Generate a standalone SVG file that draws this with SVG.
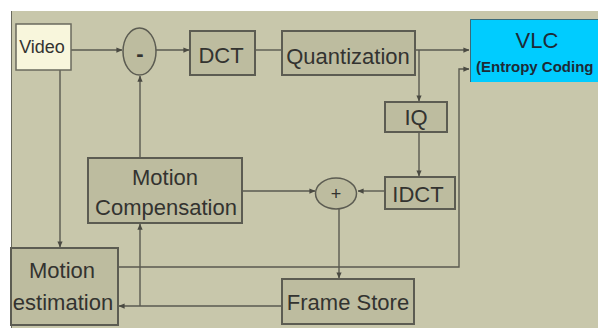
<svg xmlns="http://www.w3.org/2000/svg" width="598" height="328" viewBox="0 0 598 328">
<style>
.box{fill:#bdbc9f;stroke:#5c5c52;stroke-width:2}
.lbl{font-family:"Liberation Sans",Arial,sans-serif;font-size:22px;fill:#333330;text-anchor:middle}
.ln{fill:none;stroke:#5a5a50;stroke-width:1.4}
</style>
<defs>
<marker id="ah" viewBox="0 0 8 8" refX="7.5" refY="4" markerWidth="6" markerHeight="6" orient="auto" markerUnits="userSpaceOnUse">
<path d="M0,0.5 L8,4 L0,7.5 Z" fill="#4a4a42"/>
</marker>
</defs>
<rect x="0" y="0" width="598" height="328" fill="#ffffff"/>
<rect x="11" y="11" width="587" height="317" fill="#c8c7ab"/>
<line x1="11.5" y1="11" x2="11.5" y2="328" stroke="#6a6a5e" stroke-width="1"/>

<g id="connectors">
<path class="ln" d="M71,50 H122" marker-end="url(#ah)"/>
<path class="ln" d="M156,50 H189" marker-end="url(#ah)"/>
<path class="ln" d="M255,50 H282"/>
<path class="ln" d="M415,50 H469" marker-end="url(#ah)"/>
<path class="ln" d="M419,50 V101" marker-end="url(#ah)"/>
<path class="ln" d="M419,132 V176" marker-end="url(#ah)"/>
<path class="ln" d="M385,191 H358" marker-end="url(#ah)"/>
<path class="ln" d="M242,191 H315" marker-end="url(#ah)"/>
<path class="ln" d="M339,209 V278" marker-end="url(#ah)"/>
<path class="ln" d="M140,158 V76" marker-end="url(#ah)"/>
<path class="ln" d="M60,70 V247" marker-end="url(#ah)"/>
<path class="ln" d="M118,267 H459 V69 H469" marker-end="url(#ah)"/>
<path class="ln" d="M282,306 H119" marker-end="url(#ah)"/>
<path class="ln" d="M140,306 V224" marker-end="url(#ah)"/>
</g>

<g id="video">
<rect x="16" y="24" width="55" height="46" fill="#f8f6dc" stroke="#6a6a5e" stroke-width="1.5"/>
<text class="lbl" x="42" y="53" style="font-size:18px">Video</text>
</g>

<g id="minus">
<ellipse cx="139.5" cy="51.5" rx="16.5" ry="23.5" fill="#bdbc9f" stroke="#5c5c52" stroke-width="1.5"/>
<text class="lbl" x="140" y="61" style="font-size:22px;font-weight:bold">-</text>
</g>

<g id="dct">
<rect class="box" x="190" y="31" width="65" height="44"/>
<text class="lbl" x="221" y="63">DCT</text>
</g>

<g id="quantization">
<rect class="box" x="282" y="31" width="133" height="44"/>
<text class="lbl" x="348" y="64">Quantization</text>
</g>

<g id="vlc">
<rect x="470" y="19" width="128" height="63" fill="#00ccff"/>
<path d="M598,19.5 H470.5 V82" fill="none" stroke="#3a6a7a" stroke-width="1"/>
<text class="lbl" x="537" y="48" style="font-size:22px;fill:#1e2a36">VLC</text>
<text class="lbl" x="476" y="72" style="font-size:15px;font-weight:bold;text-anchor:start;fill:#1e2a36">(Entropy Coding</text>
</g>

<g id="iq">
<rect class="box" x="385" y="102" width="62" height="30"/>
<text class="lbl" x="416" y="125">IQ</text>
</g>

<g id="idct">
<rect class="box" x="385" y="177" width="70" height="32"/>
<text class="lbl" x="418" y="202">IDCT</text>
</g>

<g id="plus">
<ellipse cx="336" cy="193.5" rx="20.5" ry="15.5" fill="#bdbc9f" stroke="#5c5c52" stroke-width="1.5"/>
<text class="lbl" x="336" y="200" style="font-size:18px">+</text>
</g>

<g id="motion-compensation">
<rect class="box" x="88" y="158" width="154" height="65"/>
<text class="lbl" x="165" y="185">Motion</text>
<text class="lbl" x="166" y="215">Compensation</text>
</g>

<g id="motion-estimation">
<rect class="box" x="11" y="248" width="107" height="77"/>
<text class="lbl" x="62" y="278">Motion</text>
<text class="lbl" x="63" y="310">estimation</text>
</g>

<g id="frame-store">
<rect class="box" x="282" y="279" width="132" height="45"/>
<text class="lbl" x="348" y="310">Frame Store</text>
</g>
</svg>
